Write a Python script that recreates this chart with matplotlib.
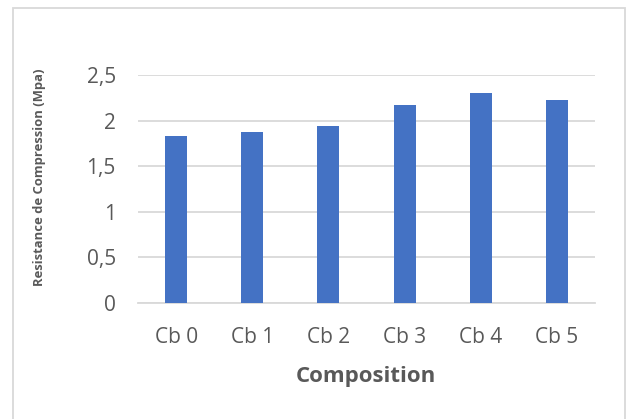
import matplotlib.pyplot as plt
from matplotlib.patches import Rectangle

# compressive strength per composition
compositions = ['Cb 0', 'Cb 1', 'Cb 2', 'Cb 3', 'Cb 4', 'Cb 5']
resistance = [1.83, 1.88, 1.94, 2.17, 2.30, 2.23]
y_ticks = [0, 0.5, 1, 1.5, 2, 2.5]
y_tick_labels = ['0', '0,5', '1', '1,5', '2', '2,5']

plt.rcParams['font.family'] = ['Open Sans', 'DejaVu Sans']

W, H = 627, 419
fig = plt.figure(figsize=(W / 100, H / 100), dpi=100)
ax = fig.add_axes([138 / W, 1 - 303 / H, (595 - 138) / W, (303 - 75) / H])

x = range(len(compositions))
ax.bar(x, resistance, width=0.29, color='#4472c4', zorder=3)

ax.set_xlim(-0.5, len(compositions) - 0.5)
ax.set_ylim(0, 2.5)
ax.set_yticks(y_ticks)
ax.set_yticklabels(y_tick_labels)
ax.set_xticks(list(x))
ax.set_xticklabels(compositions)

ax.grid(axis='y', color='#d9d9d9', linewidth=1.3, zorder=0)
for side in ['top', 'right', 'left']:
    ax.spines[side].set_visible(False)
ax.spines['bottom'].set_color('#d9d9d9')
ax.spines['bottom'].set_linewidth(1.3)
ax.tick_params(axis='both', length=0, labelsize=15, labelcolor='#595959')
ax.tick_params(axis='x', pad=17)
ax.tick_params(axis='y', pad=16)

fig.text(366 / W, 1 - 376 / H, 'Composition', ha='center', va='center',
         fontsize=16, fontweight='bold', color='#595959')
fig.text(40 / W, 1 - 177 / H, 'Resistance de Compression (Mpa)', ha='center',
         va='center', rotation=90, fontsize=9.4, fontweight='bold', color='#595959')

# chart frame
fig.patches.append(Rectangle((13 / W, -0.05), (625 - 13) / W, 1.05 - 8 / H,
                             transform=fig.transFigure, fill=False,
                             edgecolor='#d9d9d9', linewidth=1.3))

fig.savefig('out.png', dpi=100)
